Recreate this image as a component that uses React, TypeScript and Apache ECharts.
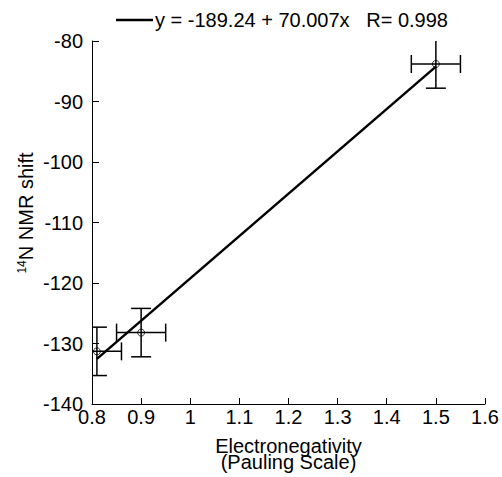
import React, { useEffect, useRef } from "react";
import * as echarts from "echarts";

const xValues = [0.81, 0.9, 1.5];
const yValues = [-131.3, -128.2, -83.8];
const xErrors = [0.05, 0.05, 0.05];
const yErrors = [4, 4, 4];
const fitIntercept = -189.24;
const fitSlope = 70.007;
const fitLabel = "y = -189.24 + 70.007x   R= 0.998";
const xTicks = [0.8, 0.9, 1, 1.1, 1.2, 1.3, 1.4, 1.5, 1.6];
const yTicks = [-140, -130, -120, -110, -100, -90, -80];

const FONT = "Liberation Sans, Arial, Helvetica, sans-serif";
const FS = 20;

export default function App() {
  const ref = useRef<HTMLDivElement>(null);
  useEffect(() => {
    document.body.style.margin = "0";
    if (!ref.current) return;
    const chart = echarts.init(ref.current, null, { renderer: "svg" });
    const fitX = [xValues[0], xValues[xValues.length - 1]];
    const fitData = fitX.map((x) => [x, fitIntercept + fitSlope * x]);
    const errData = xValues.map((x, i) => [x, yValues[i], xErrors[i], yErrors[i]]);
    chart.setOption({
      animation: false,
      backgroundColor: "#fff",
      textStyle: { fontFamily: FONT },
      grid: { left: 92, top: 41, right: 17, bottom: 67, containLabel: false },
      xAxis: {
        type: "value",
        min: xTicks[0],
        max: xTicks[xTicks.length - 1],
        interval: 0.1,
        name: "Electronegativity\n(Pauling Scale)",
        nameLocation: "middle",
        nameGap: 34,
        nameTextStyle: {
          fontSize: FS,
          color: "#000",
          fontFamily: FONT,
          lineHeight: 16,
          verticalAlign: "top",
        },
        axisLine: { show: true, lineStyle: { color: "#000", width: 1 } },
        axisTick: { show: true, inside: true, length: 6, lineStyle: { color: "#000" } },
        axisLabel: {
          fontSize: FS,
          color: "#000",
          fontFamily: FONT,
          margin: 3,
          formatter: (v: number) => String(parseFloat(v.toFixed(1))),
        },
        splitLine: { show: false },
      },
      yAxis: {
        type: "value",
        min: yTicks[0],
        max: yTicks[yTicks.length - 1],
        interval: 10,
        axisLine: { show: true, lineStyle: { color: "#000", width: 1 } },
        axisTick: { show: true, inside: true, length: 7, lineStyle: { color: "#000" } },
        axisLabel: { fontSize: FS, color: "#000", fontFamily: FONT, margin: 9 },
        splitLine: { show: false },
      },
      series: [
        {
          type: "line",
          data: fitData,
          symbol: "none",
          lineStyle: { color: "#000", width: 2.5 },
          z: 3,
        },
        {
          type: "custom",
          clip: true,
          data: errData,
          renderItem: (params: any, api: any) => {
            const x = api.value(0);
            const y = api.value(1);
            const ex = api.value(2);
            const ey = api.value(3);
            const c = api.coord([x, y]);
            const l = api.coord([x - ex, y]);
            const r = api.coord([x + ex, y]);
            const t = api.coord([x, y + ey]);
            const b = api.coord([x, y - ey]);
            const capH = 9;
            const capV = 10;
            const st = { stroke: "#000", lineWidth: 1.5 };
            const mk = (x1: number, y1: number, x2: number, y2: number) => ({
              type: "line",
              shape: { x1, y1, x2, y2 },
              style: st,
            });
            return {
              type: "group",
              children: [
                mk(l[0], c[1], r[0], c[1]),
                mk(l[0], c[1] - capH, l[0], c[1] + capH),
                mk(r[0], c[1] - capH, r[0], c[1] + capH),
                mk(c[0], t[1], c[0], b[1]),
                mk(c[0] - capV, t[1], c[0] + capV, t[1]),
                mk(c[0] - capV, b[1], c[0] + capV, b[1]),
              ],
            };
          },
          z: 2,
        },
        {
          type: "scatter",
          data: xValues.map((x, i) => [x, yValues[i]]),
          symbol: "circle",
          symbolSize: 7,
          itemStyle: { color: "transparent", borderColor: "#000", borderWidth: 1 },
          z: 4,
        },
      ],
      graphic: [
        {
          type: "line",
          shape: { x1: 116, y1: 20, x2: 153, y2: 20 },
          style: { stroke: "#000", lineWidth: 2.5 },
        },
        {
          type: "text",
          x: 155,
          y: 20,
          style: {
            text: fitLabel,
            fontSize: FS,
            fontFamily: FONT,
            fill: "#000",
            verticalAlign: "middle",
          },
        },
        {
          type: "text",
          x: 26,
          y: 213,
          rotation: Math.PI / 2,
          style: {
            text: "{sup|14}{main|N NMR shift}",
            align: "center",
            verticalAlign: "middle",
            fill: "#000",
            fontFamily: FONT,
            rich: {
              sup: { fontSize: 12, fontFamily: FONT, fill: "#000", padding: [0, 0, 8, 0] },
              main: { fontSize: FS, fontFamily: FONT, fill: "#000" },
            },
          },
        },
      ],
    });
    return () => chart.dispose();
  }, []);
  return <div ref={ref} style={{ width: 502, height: 477 }} />;
}
